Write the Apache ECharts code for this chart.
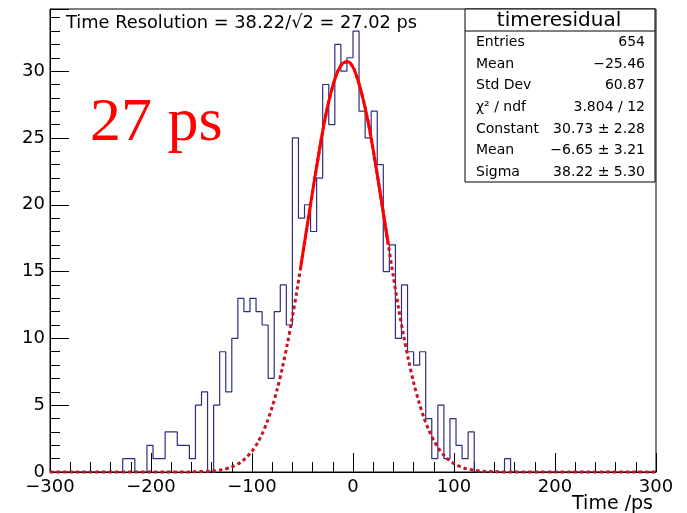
<!DOCTYPE html>
<html>
<head>
<meta charset="utf-8">
<script src="https://cdn.jsdelivr.net/npm/echarts@6/dist/echarts.min.js"></script>
<style>
  html, body { margin: 0; padding: 0; background: #fff; }
  #main { width: 687px; height: 513px; }
</style>
</head>
<body>
<div id="main"></div>
<script>
// histogram binning: 100 bins of 6 ps from -300 to 300
var xMin = -300;
var binWidth = 6;
var counts = [
  0, 0, 0, 0, 0, 0, 0, 0, 0, 0,
  0, 0, 1, 1, 0, 0, 2, 1, 1, 3,
  3, 2, 2, 1, 5, 6, 0, 5, 9, 6,
  10, 13, 12, 13, 12, 11, 7, 12, 14, 11,
  25, 19, 20, 18, 22, 29, 26, 32, 30, 31,
  33, 27, 25, 27, 23, 15, 17, 10, 14, 9,
  8, 9, 4, 1, 5, 1, 4, 2, 1, 3,
  0, 0, 0, 0, 0, 1, 0, 0, 0, 0,
  0, 0, 0, 0, 0, 0, 0, 0, 0, 0,
  0, 0, 0, 0, 0, 0, 0, 0, 0, 0
];

// gaussian fit curve (full range, dotted)
var fitX = [-300, -200, -160, -140, -130, -120, -110, -100, -95, -90, -85, -80, -75, -70, -65, -60, -55,
  -50, -45, -40, -35, -30, -25, -20, -15, -10, -5, 0, 5, 10, 15, 20, 25, 30, 35, 40, 45, 50, 55,
  60, 65, 70, 75, 80, 85, 90, 95, 100, 110, 120, 130, 140, 160, 200, 300];
var fitY = [0, 0, 0.01, 0.07, 0.17, 0.38, 0.79, 1.56, 2.12, 2.85, 3.76, 4.87, 6.22, 7.77, 9.58, 11.6, 13.8,
  16.2, 18.6, 21.0, 23.3, 25.5, 27.4, 28.9, 30.0, 30.6, 30.7, 30.3, 29.3, 27.9, 26.2, 24.1, 21.8, 19.4, 17.0, 14.6, 12.3, 10.25, 8.37,
  6.71, 5.30, 4.11, 3.14, 2.35, 1.73, 1.25, 0.89, 0.63, 0.29, 0.13, 0.05, 0.02, 0, 0, 0];

// same curve inside the fit range (solid)
var solidX = [-52, -50, -45, -40, -35, -30, -25, -20, -15, -10, -5, 0, 5, 10, 15, 20, 25, 30, 35];
var solidY = [15.2, 16.2, 18.6, 21.0, 23.3, 25.5, 27.4, 28.9, 30.0, 30.6, 30.7, 30.3, 29.3, 27.9, 26.2, 24.1, 21.8, 19.4, 17.0];

var xTicks = [-300, -200, -100, 0, 100, 200, 300];
var yTicks = [0, 5, 10, 15, 20, 25, 30];

var titleText = 'Time Resolution = 38.22/\u221A2 = 27.02 ps';
var statsName = 'timeresidual';
var statsLabels = ['Entries', 'Mean', 'Std Dev', '\u03C7\u00B2 / ndf', 'Constant', 'Mean', 'Sigma'];
var statsValues = ['654', '\u221225.46', '60.87', '3.804 / 12', '30.73 \u00B1 2.28', '\u22126.65 \u00B1 3.21', '38.22 \u00B1 5.30'];

var histData = [];
for (var i = 0; i < counts.length; i++) {
  histData.push([xMin + i * binWidth, counts[i]]);
}
histData.push([xMin + counts.length * binWidth, 0]);

function pairs(xs, ys) {
  return xs.map(function (x, k) { return [x, ys[k]]; });
}

var font = 'DejaVu Sans';

var statsGraphics = [
  { type: 'rect', shape: { x: 465, y: 9, width: 190, height: 173 },
    style: { fill: '#fff', stroke: '#000', lineWidth: 1 }, z: 100 },
  { type: 'line', shape: { x1: 465, y1: 31, x2: 655, y2: 31 },
    style: { stroke: '#000', lineWidth: 1 }, z: 101 },
  { type: 'text', x: 559, y: 21, z: 101,
    style: { text: statsName, font: '20px ' + font, fill: '#000', align: 'center', verticalAlign: 'middle' } }
];
statsLabels.forEach(function (lab, k) {
  var y = 42.5 + 21.6 * k;
  statsGraphics.push({ type: 'text', x: 476, y: y, z: 101,
    style: { text: lab, font: '14px ' + font, fill: '#000', align: 'left', verticalAlign: 'middle' } });
  statsGraphics.push({ type: 'text', x: 645, y: y, z: 101,
    style: { text: statsValues[k], font: '14px ' + font, fill: '#000', align: 'right', verticalAlign: 'middle' } });
});

var chart = echarts.init(document.getElementById('main'), null, { renderer: 'canvas' });

var option = {
  animation: false,
  backgroundColor: '#fff',
  grid: {
    left: 50, right: 31, top: 9, bottom: 41,
    show: true, borderColor: '#000', borderWidth: 1, backgroundColor: 'transparent'
  },
  xAxis: {
    type: 'value',
    min: -300,
    max: 300,
    interval: 100,
    axisLine: { onZero: false, lineStyle: { color: '#000', width: 1 } },
    axisTick: { inside: true, length: 19, lineStyle: { color: '#000' } },
    minorTick: { show: true, splitNumber: 5, length: 10, lineStyle: { color: '#000' } },
    splitLine: { show: false },
    axisLabel: {
      margin: 6, color: '#000', fontFamily: font, fontSize: 18,
      showMinLabel: true, showMaxLabel: true,
      formatter: function (v) {
        return xTicks.indexOf(v) >= 0 ? String(v).replace('-', '\u2212') : '';
      }
    }
  },
  yAxis: {
    type: 'value',
    min: 0,
    max: 34.65,
    interval: 5,
    axisLine: { show: true, onZero: false, lineStyle: { color: '#000', width: 1 } },
    axisTick: { inside: true, length: 19, lineStyle: { color: '#000' } },
    minorTick: { show: true, splitNumber: 5, length: 10, lineStyle: { color: '#000' } },
    splitLine: { show: false },
    axisLabel: {
      margin: 5, color: '#000', fontFamily: font, fontSize: 18,
      formatter: function (v) {
        return yTicks.indexOf(v) >= 0 ? String(v) : '';
      }
    }
  },
  series: [
    {
      name: 'timeresidual',
      type: 'line',
      step: 'end',
      data: histData,
      symbol: 'none',
      lineStyle: { color: '#2e2e80', width: 1.2 },
      z: 3
    },
    {
      name: 'fit full',
      type: 'line',
      data: pairs(fitX, fitY),
      smooth: 0.3,
      symbol: 'none',
      clip: false,
      lineStyle: { color: '#cc1122', width: 3, type: [3.5, 3], cap: 'butt' },
      z: 4
    },
    {
      name: 'fit',
      type: 'line',
      data: pairs(solidX, solidY),
      smooth: 0.3,
      symbol: 'none',
      lineStyle: { color: '#ff0000', width: 3 },
      z: 5
    }
  ],
  graphic: [
    { type: 'text', x: 66, y: 23, z: 50,
      style: { text: titleText, font: '17.8px ' + font, fill: '#000', align: 'left', verticalAlign: 'middle' } },
    { type: 'text', x: 90, y: 124, z: 50,
      style: { text: '27 ps', font: '62px "Liberation Serif"', fill: '#ff0000', align: 'left', verticalAlign: 'middle' } },
    { type: 'text', x: 653, y: 504, z: 50,
      style: { text: 'Time /ps', font: '19px ' + font, fill: '#000', align: 'right', verticalAlign: 'middle' } }
  ].concat(statsGraphics)
};

chart.setOption(option);
</script>
</body>
</html>
